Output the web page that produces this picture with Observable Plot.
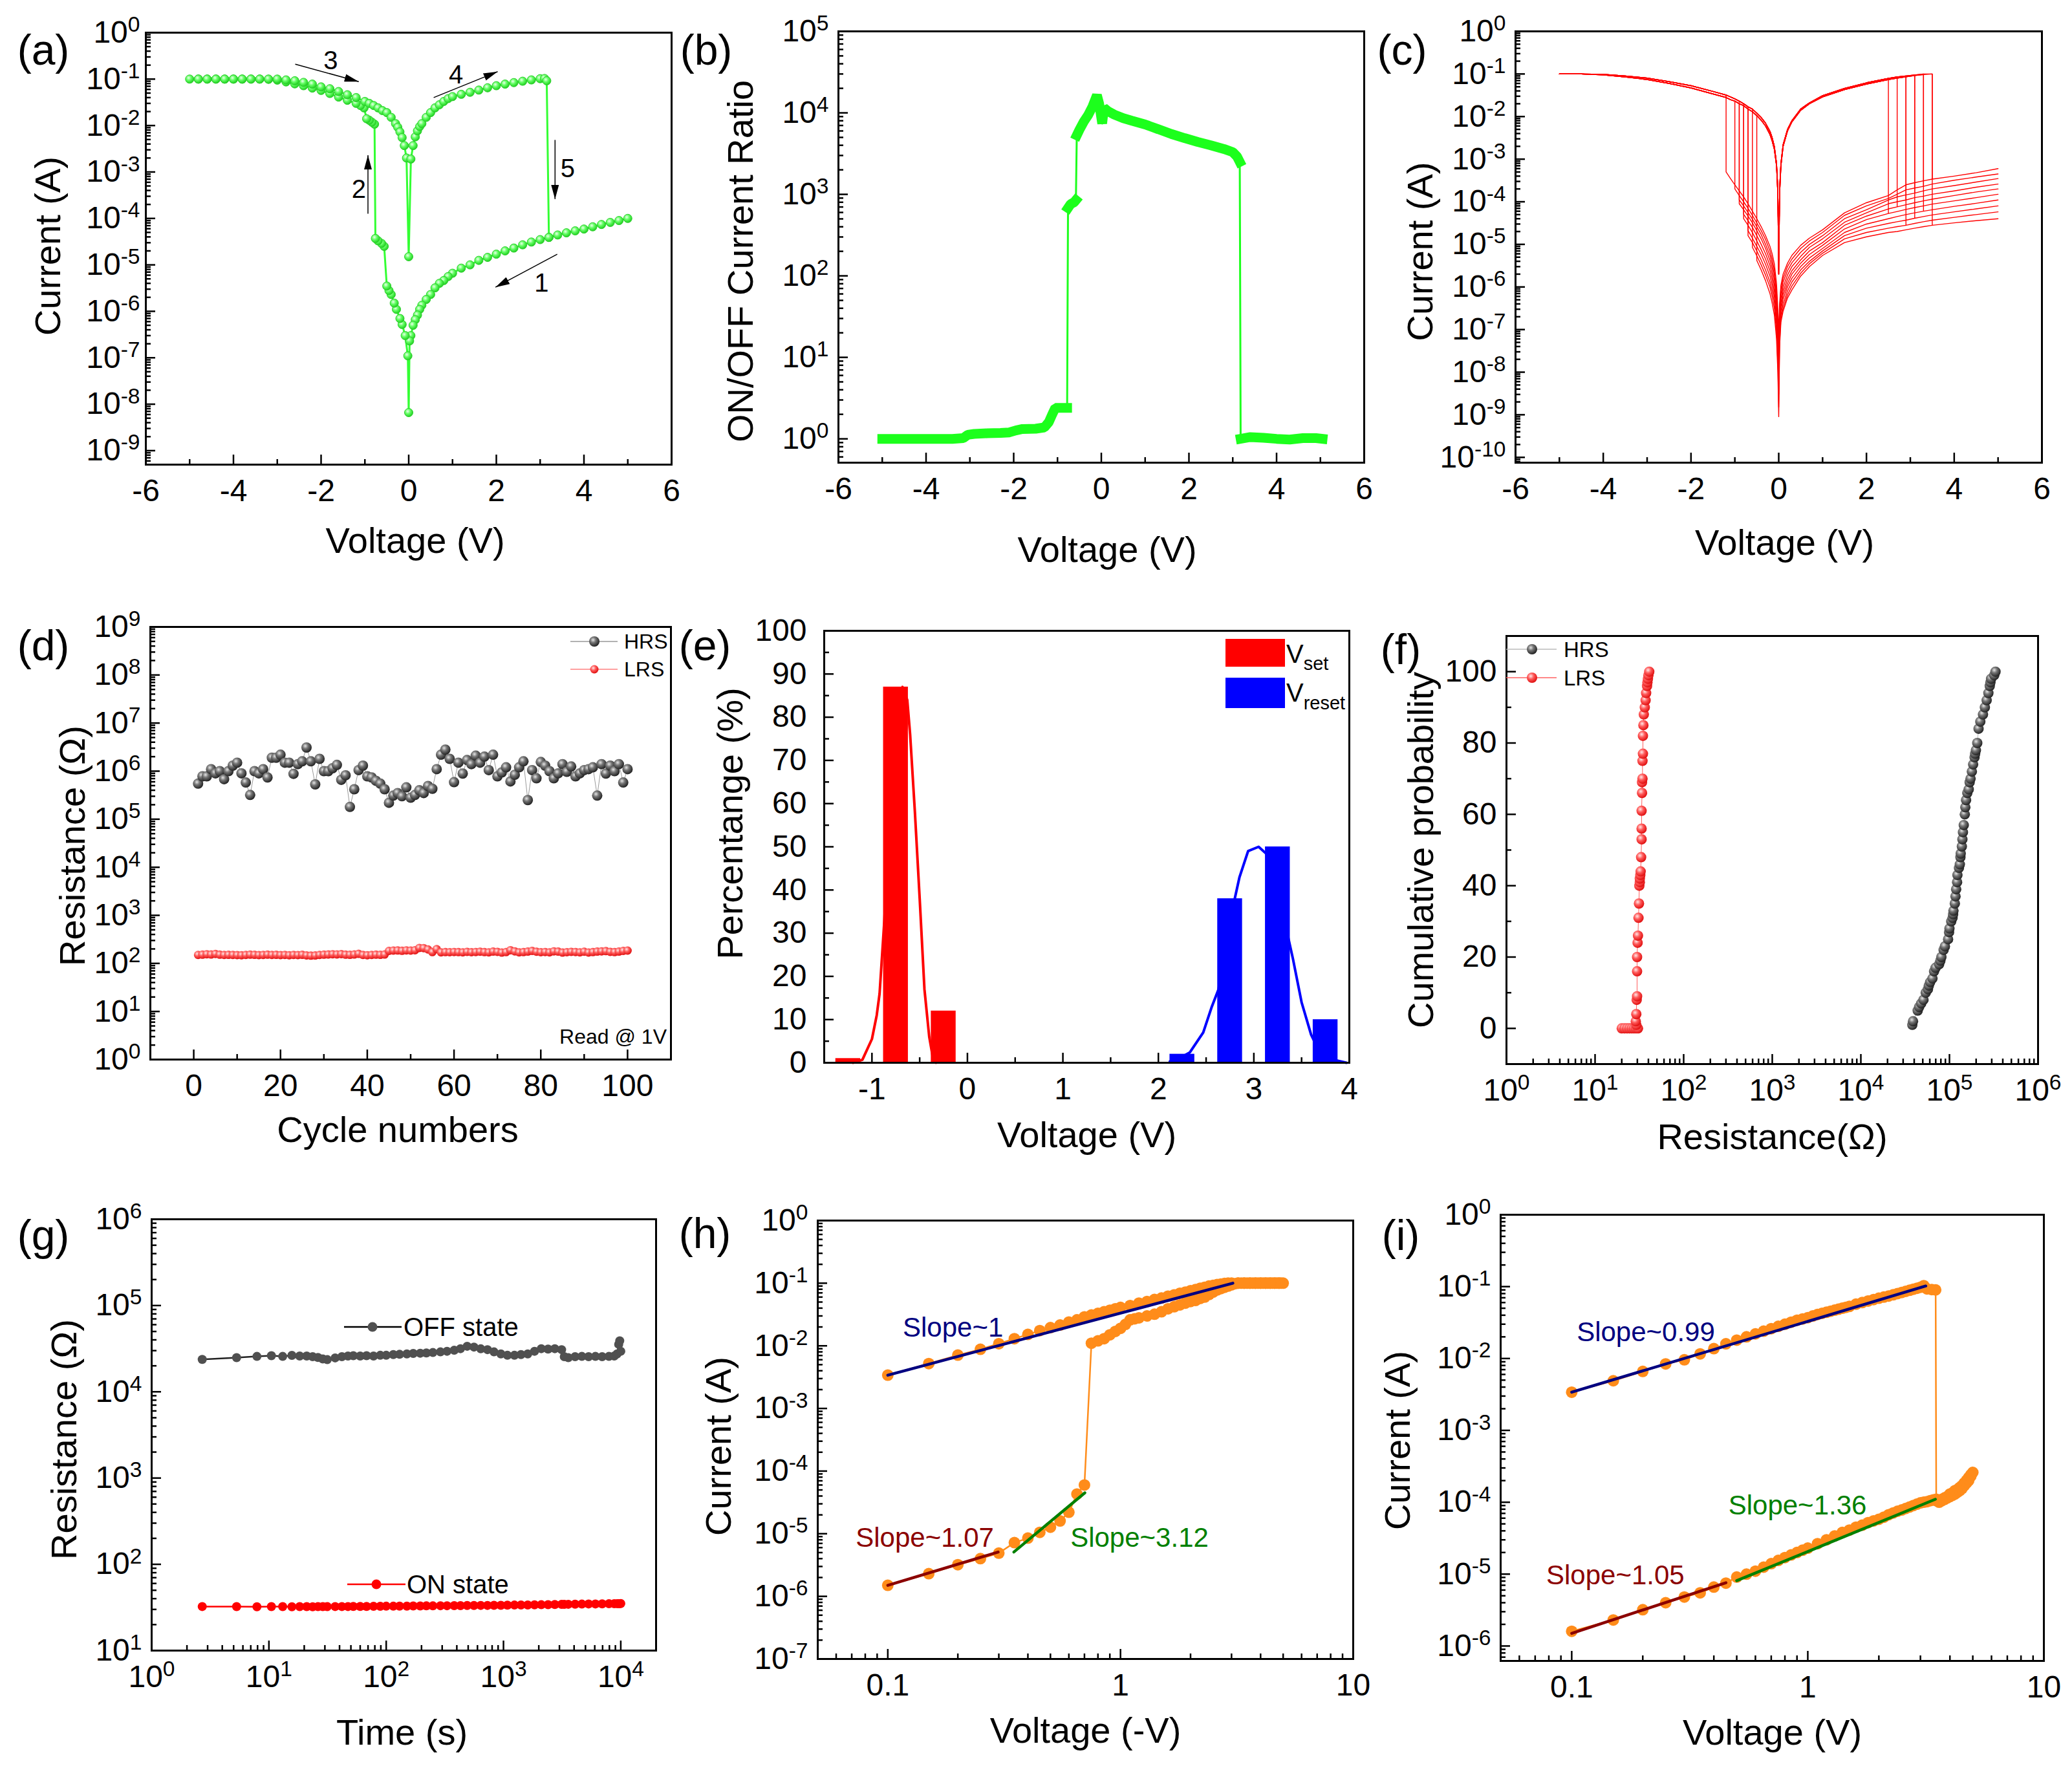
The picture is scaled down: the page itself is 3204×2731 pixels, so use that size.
<!DOCTYPE html>
<html>
<head>
<meta charset="utf-8">
<script src="https://cdn.jsdelivr.net/npm/d3@7"></script>
<script src="https://cdn.jsdelivr.net/npm/@observablehq/plot@0.6"></script>
<style>
html,body{margin:0;padding:0;background:#fff;}
#fig{position:relative;width:3204px;height:2731px;background:#fff;overflow:hidden;}
.pnl{position:absolute;}
.pnl svg{display:block;max-width:none;}
</style>
</head>
<body>
<div id="fig"></div>
<script>
// ================= DATA =================
// (a) I-V loop, branches in sweep order
const a1V = [5.0,4.8,4.6,4.4,4.2,4.0,3.8,3.6,3.4,3.2,3.0,2.8,2.6,2.4,2.2,2.0,1.8,1.6,1.4,1.2,1.0,0.9,0.8,0.7,0.6,0.5,0.4,0.3,0.25,0.2,0.15,0.1,0.05,0.02,0];
const a1I = [1.0e-4,9.0e-5,8.2e-5,7.4e-5,6.6e-5,5.9e-5,5.4e-5,4.9e-5,4.4e-5,3.9e-5,3.5e-5,3.1e-5,2.7e-5,2.3e-5,2.0e-5,1.7e-5,1.45e-5,1.25e-5,1.0e-5,8.5e-6,6.6e-6,5.6e-6,4.6e-6,4.0e-6,3.2e-6,2.3e-6,1.8e-6,1.35e-6,1.1e-6,8.3e-7,6.6e-7,5.0e-7,3.0e-7,2.3e-7,6.6e-9];
const a2V = [-0.02,-0.08,-0.15,-0.2,-0.28,-0.33,-0.4,-0.45,-0.5,-0.56,-0.62,-0.7,-0.76];
const a2I = [1.1e-7,3e-7,5.2e-7,7e-7,1.1e-6,1.5e-6,2.3e-6,2.8e-6,3.5e-6,2.5e-5,2.9e-5,3.3e-5,3.7e-5];
const a3V = [-0.78,-0.84,-0.9,-0.96,-1.02,-1.1,-1.2,-1.4,-1.6,-1.8,-2.0,-2.2,-2.4,-2.6,-2.8,-3.0,-3.2,-3.4,-3.6,-3.8,-4.0,-4.2,-4.4,-4.6,-4.8,-5.0];
const a3I = [0.0107,0.0118,0.013,0.014,0.024,0.027,0.03,0.035,0.041,0.049,0.057,0.064,0.072,0.079,0.087,0.095,0.099,0.1,0.1,0.1,0.1,0.1,0.1,0.1,0.1,0.1];
const a4V = [-4.8,-4.6,-4.4,-4.2,-4.0,-3.8,-3.6,-3.4,-3.2,-3.0,-2.8,-2.6,-2.4,-2.2,-2.0,-1.8,-1.6,-1.4,-1.2,-1.0,-0.9,-0.8,-0.7,-0.6,-0.5,-0.4,-0.3,-0.25,-0.2,-0.15,-0.1,-0.05,0];
const a4I = [0.1,0.1,0.1,0.1,0.1,0.1,0.1,0.1,0.1,0.1,0.096,0.092,0.085,0.078,0.068,0.062,0.054,0.046,0.040,0.033,0.030,0.027,0.024,0.021,0.019,0.015,0.011,0.0092,0.0073,0.0055,0.0037,0.002,1.5e-5];
const a5V = [0.05,0.1,0.15,0.2,0.25,0.3,0.4,0.5,0.6,0.7,0.8,0.9,1.0,1.2,1.4,1.6,1.8,2.0,2.2,2.4,2.6,2.8,3.0,3.1,3.15,3.2];
const a5I = [0.0019,0.0037,0.0057,0.0077,0.0095,0.011,0.015,0.019,0.024,0.028,0.033,0.038,0.042,0.047,0.052,0.058,0.065,0.072,0.078,0.084,0.09,0.096,0.102,0.103,0.092,3.9e-5];
const aNotes = [{t:"3",V:-1.78,I:0.25},{t:"4",V:1.08,I:0.12},{t:"2",V:-1.14,I:4.2e-4},{t:"5",V:3.63,I:1.15e-3},{t:"1",V:3.03,I:4e-6}];
const aArrows = [{V1:-2.59,I1:0.21,V2:-1.14,I2:0.088},{V1:0.57,I1:0.04,V2:2.03,I2:0.145},{V1:-0.93,I1:1.26e-4,V2:-0.93,I2:2.3e-3},{V1:3.34,I1:4.9e-3,V2:3.34,I2:2.6e-4},{V1:3.39,I1:1.7e-5,V2:1.98,I2:3.3e-6}];

// (b) ON/OFF ratio
const bV = [-5.0,-4.6,-4.2,-3.8,-3.4,-3.15,-3.05,-2.9,-2.6,-2.3,-2.1,-1.95,-1.8,-1.5,-1.3,-1.2,-1.12,-1.05,-0.9,-0.78,-0.76,-0.7,-0.62,-0.58,-0.56,-0.5,-0.4,-0.3,-0.2,-0.1,-0.05,0.02,0.06,0.15,0.3,0.5,0.7,1.0,1.3,1.6,1.9,2.2,2.5,2.8,3.0,3.1,3.16,3.18,3.4,3.7,4.0,4.3,4.6,4.9,5.05];
const bRatio = [1,1,1,1,1,1.02,1.12,1.15,1.17,1.18,1.2,1.27,1.32,1.33,1.38,1.6,2.0,2.4,2.4,2.4,680,760,800,850,5300,6200,7800,9400,1.2e4,1.65e4,1.3e4,7400,1.15e4,1.05e4,9500,8600,8000,7200,6300,5500,4900,4400,4000,3600,3300,2900,2500,1,1.05,1.03,1,0.98,1.02,1.02,1];
const bSeg = [0,0,0,0,0,0,0,0,0,0,0,0,0,0,0,0,0,0,0,0,1,1,1,1,2,2,2,2,2,2,2,2,2,2,2,2,2,2,2,2,2,2,2,2,2,2,2,3,3,3,3,3,3,3,3];

// (c) repeated cycles
const cHposV = [5,4.5,4,3.5,3.3,3.1,2.9,2.7,2.5,2,1.5,1,0.7,0.5,0.3,0.2,0.1,0.05,0.02,0];
const cHRSpos = [
  [6e-4,4.8e-4,4e-4,3.4e-4,3.1e-4,2.8e-4,2.5e-4,1.9e-4,1.4e-4,9.5e-5,5.5e-5,2.2e-5,1.4e-5,9.5e-6,5.5e-6,3.6e-6,2e-6,1.1e-6,4e-7,8e-8],
  [4.5e-4,3.8e-4,3.2e-4,2.6e-4,2.3e-4,2.1e-4,1.9e-4,1.5e-4,1.2e-4,8e-5,4.8e-5,1.9e-5,1.2e-5,8e-6,4.5e-6,3e-6,1.6e-6,9e-7,3e-7,5e-8],
  [3.5e-4,2.9e-4,2.4e-4,2e-4,1.8e-4,1.6e-4,1.45e-4,1.3e-4,1.1e-4,6.5e-5,4e-5,1.6e-5,1e-5,6.5e-6,3.7e-6,2.4e-6,1.3e-6,7e-7,2.4e-7,3e-8],
  [2.6e-4,2.2e-4,1.8e-4,1.5e-4,1.35e-4,1.25e-4,1.1e-4,1e-4,9e-5,5.5e-5,3.3e-5,1.35e-5,8.5e-6,5.2e-6,3e-6,1.9e-6,1e-6,5.5e-7,1.8e-7,2e-8],
  [2e-4,1.7e-4,1.4e-4,1.15e-4,1.05e-4,9.5e-5,8.5e-5,7.6e-5,6.8e-5,4.6e-5,2.8e-5,1.1e-5,7e-6,4.3e-6,2.4e-6,1.5e-6,8e-7,4.3e-7,1.4e-7,1.2e-8],
  [1.5e-4,1.25e-4,1.05e-4,8.8e-5,8e-5,7.3e-5,6.6e-5,5.9e-5,5.3e-5,3.8e-5,2.3e-5,9.5e-6,5.8e-6,3.6e-6,2e-6,1.2e-6,6.5e-7,3.5e-7,1.1e-7,8e-9],
  [1.1e-4,9.2e-5,7.8e-5,6.5e-5,6e-5,5.5e-5,5e-5,4.5e-5,4e-5,3e-5,1.9e-5,8e-6,4.8e-6,3e-6,1.6e-6,1e-6,5.2e-7,2.8e-7,9e-8,5e-9],
  [8e-5,6.8e-5,5.8e-5,4.9e-5,4.5e-5,4.1e-5,3.7e-5,3.4e-5,3.1e-5,2.4e-5,1.6e-5,7e-6,4e-6,2.5e-6,1.3e-6,8e-7,4e-7,2.2e-7,7e-8,3e-9],
  [5.8e-5,5e-5,4.3e-5,3.7e-5,3.4e-5,3.1e-5,2.8e-5,2.6e-5,2.4e-5,1.9e-5,1.35e-5,6.2e-6,3.5e-6,2.1e-6,1.05e-6,6.5e-7,3.2e-7,1.8e-7,5e-8,1.5e-9],
  [4e-5,3.6e-5,3.2e-5,2.8e-5,2.6e-5,2.4e-5,2.2e-5,2e-5,1.9e-5,1.5e-5,1.1e-5,5.5e-6,3e-6,1.8e-6,8.5e-7,5.5e-7,2.7e-7,1.5e-7,4e-8,9e-10]
];
const cHnegV = [0,-0.02,-0.05,-0.1,-0.15,-0.2,-0.3,-0.4,-0.5,-0.6,-0.7,-0.8,-0.9,-1.0,-1.1,-1.2];
const cHRSneg = [
  [8e-8,3e-7,1.2e-6,3.5e-6,6e-6,9e-6,1.6e-5,2.6e-5,4e-5,6e-5,9e-5,1.3e-4,1.8e-4,2.5e-4,3.5e-4,5e-4],
  [5e-8,2e-7,8e-7,2.5e-6,4.5e-6,7e-6,1.3e-5,2.1e-5,3.2e-5,4.8e-5,7e-5,1e-4,1.4e-4,2e-4,2.8e-4,4e-4],
  [3e-8,1.5e-7,6e-7,2e-6,3.5e-6,5.5e-6,1e-5,1.7e-5,2.6e-5,3.9e-5,5.6e-5,8e-5,1.1e-4,1.6e-4,2.2e-4,3e-4],
  [2e-8,1e-7,4.5e-7,1.5e-6,2.7e-6,4.2e-6,8e-6,1.35e-5,2.1e-5,3.2e-5,4.6e-5,6.5e-5,9e-5,1.25e-4,1.7e-4,2.3e-4],
  [1.2e-8,7e-8,3.5e-7,1.1e-6,2e-6,3.2e-6,6e-6,1e-5,1.6e-5,2.5e-5,3.6e-5,5.1e-5,7e-5,9.6e-5,1.3e-4,1.8e-4],
  [8e-9,5e-8,2.5e-7,8e-7,1.5e-6,2.4e-6,4.5e-6,7.5e-6,1.2e-5,1.9e-5,2.8e-5,4e-5,5.5e-5,7.5e-5,1e-4,1.4e-4],
  [5e-9,3.5e-8,1.8e-7,6e-7,1.1e-6,1.8e-6,3.4e-6,5.8e-6,9e-6,1.4e-5,2.1e-5,3e-5,4.2e-5,5.8e-5,8e-5,1.1e-4],
  [3e-9,2.5e-8,1.3e-7,4.5e-7,8e-7,1.3e-6,2.5e-6,4.3e-6,7e-6,1.1e-5,1.6e-5,2.3e-5,3.3e-5,4.6e-5,6.3e-5,8.5e-5],
  [1.5e-9,1.5e-8,9e-8,3.2e-7,6e-7,1e-6,1.9e-6,3.3e-6,5.4e-6,8.5e-6,1.3e-5,1.9e-5,2.7e-5,3.8e-5,5.2e-5,7e-5],
  [9e-10,1e-8,6e-8,2.2e-7,4.2e-7,7e-7,1.4e-6,2.5e-6,4.2e-6,6.6e-6,1e-5,1.5e-5,2.2e-5,3.2e-5,4.6e-5,6.5e-5]
];
const cSetV = [-1.2,-1.0,-0.9,-0.9,-0.8,-0.8,-0.7,-0.7,-0.6,-0.5];
const cResetV = [3.5,3.3,3.1,2.9,2.7,2.5,3.3,3.1,2.9,3.5];
const cLnegV = [-5,-4.5,-4,-3.5,-3,-2.5,-2,-1.5,-1.2,-1.1,-1.0,-0.9,-0.8,-0.7,-0.6,-0.5,-0.4,-0.3,-0.2,-0.15,-0.1,-0.05,-0.02,0];
const cLRSneg = [
  [0.1,0.1,0.098,0.09,0.08,0.066,0.053,0.039,0.032,0.029,0.026,0.023,0.02,0.017,0.015,0.012,0.0095,0.007,0.0045,0.0032,0.002,0.0008,0.0002,4e-6],
  [0.1,0.1,0.095,0.085,0.074,0.06,0.047,0.034,0.028,0.025,0.023,0.02,0.018,0.015,0.013,0.0105,0.0082,0.006,0.0038,0.0027,0.0017,0.0007,0.00015,2e-6]
];
const cLposV = [0,0.02,0.05,0.1,0.2,0.3,0.5,0.7,1,1.5,2,2.5,2.7,2.9,3.1,3.3,3.5];
const cLRSpos = [
  [4e-6,2e-4,8e-4,2.2e-3,5e-3,8e-3,1.5e-2,2.1e-2,3.1e-2,4.6e-2,6.2e-2,7.9e-2,8.5e-2,9e-2,9.5e-2,0.1,0.1],
  [2e-6,1.5e-4,7e-4,2e-3,4.6e-3,7.5e-3,1.4e-2,2e-2,2.9e-2,4.3e-2,5.8e-2,7.4e-2,8e-2,8.6e-2,9.2e-2,9.7e-2,0.1]
];

// (d) endurance
const dHRS = [5.5e5,7.8e5,7.8e5,1.1e6,9e5,1.0e6,6.8e5,1.0e6,1.3e6,1.5e6, 9e5,5.8e5,3.2e5,1e6,9e5,1.1e6,7.4e5,1.9e6,1.9e6,2.2e6, 1.5e6,1.5e6,8.8e5,1.4e6,1.6e6,3.1e6,1.6e6,5.3e5,1.8e6,1e6, 1e6,1.15e6,1.35e6,6.6e5,8.2e5,1.8e5,4.2e5,1.05e6,1.3e6,7.8e5, 7.4e5,6.3e5,5.5e5,4.2e5,2.2e5,3.1e5,3.5e5,3e5,4.6e5,2.8e5, 3.2e5,4e5,3.5e5,4.9e5,4.3e5,1.1e6,2.2e6,2.8e6,1.8e6,5.9e5, 1.5e6,8.9e5,1.7e6,1.4e6,2.1e6,1.5e6,2e6,1.05e6,2.2e6,7.8e5, 9.4e5,1.2e6,6.1e5,8.4e5,1.2e6,1.6e6,2.5e5,1.05e6,7.1e5,1.55e6, 1.3e6,1e6,7.1e5,9e5,1.4e6,9.7e5,1.25e6,7.8e5,9e5,1.05e6, 1.1e6,1.2e6,3.1e5,1.4e6,8.9e5,1.3e6,1e6,1.4e6,5.8e5,1.1e6];
const dLRS = [150,152,155,153,157,152,150,151,150,149, 148,150,152,151,149,150,152,150,151,149, 150,148,150,149,151,147,145,146,150,152, 153,155,154,156,152,151,153,158,150,148, 150,152,151,153,182,185,186,183,187,185, 188,210,208,195,172,198,170,172,171,173, 172,170,174,171,173,175,172,170,176,174, 168,172,188,178,170,172,176,182,175,171, 173,170,178,176,168,171,174,173,170,175, 169,172,176,178,180,174,172,176,182,185];

// (e) histograms
const eSetCenters = [-1.25,-0.75,-0.25];
const eSetPct = [1,87,12];
const eResetCenters = [2.25,2.75,3.25,3.75];
const eResetPct = [2,38,50,10];
const eSetFitV = [-1.2,-1.1,-1.0,-0.95,-0.92,-0.87,-0.82,-0.78,-0.73,-0.68,-0.63,-0.6,-0.55,-0.5,-0.45,-0.4,-0.36,-0.33];
const eSetFitP = [0,0.7,5.5,11,16,33,55,72,84,87,84,76,58,38,17,6,1,0];
const eResetFitV = [2.12,2.2,2.33,2.47,2.56,2.63,2.75,2.85,2.94,3.05,3.15,3.27,3.41,3.5,3.6,3.69,3.83,3.97];
const eResetFitP = [0.3,0.8,2.4,7,13,17,33,43,49,50,48,38,24,14,6.5,2.4,0.7,0];

// (f) cumulative probability
const fHRSp = [1,2,5,6,7,8,10,11,12,13,14,16,17,18,19,20,22,23,25,27,28,30,31,32,33,35,37,39,41,43,45,46,48,49,51,53,55,57,60,62,64,66,67,69,70,72,74,76,77,78,80,84,86,88,90,92,94,96,97,98,99,100];
const fHRSr = [38100,38800,43800,45500,48000,50900,54000,57200,58500,60600,64300,67000,69700,76500,79000,81100,85900,88900,96500,99000,100000,104700,108400,110000,111000,115000,117000,119000,122000,123000,128000,131000,133000,134000,138000,140000,142000,145000,149000,151000,154000,159000,165000,169000,173000,179000,185000,192000,195000,199000,206000,213000,223000,239000,251000,263000,275000,285000,290000,295000,320000,331000];
const fLRSp = [0,0,0,0,0,0,0,0,1,2,4,8,9,16,20,24,26,31,35,40,41,42,43,44,48,53,56,61,66,69,70,75,77,82,85,88,90,92,94,96,97,98,99,100];
const fLRSr = [20,21.5,23,24.5,26,27.5,29,30.5,29.2,28.8,29.2,29.5,29.8,29.8,29.8,30.2,30.5,30.9,31.3,31.6,32.0,32.0,32.4,32.7,33.1,33.5,33.5,33.5,33.9,33.9,34.3,34.3,34.7,34.7,35.1,35.5,36.4,37.2,37.7,38.6,39.0,39.5,40.0,40.9];

// (g) retention
const gT = [2.7,5.3,7.9,10.5,13.1,15.7,18.3,21,23.6,26.2,28.8,31.4,36.7,41.9,47.2,52.4,60,68,78,89,100,115,130,150,170,195,220,250,290,330,380,430,490,560,640,730,830,950,1080,1240,1410,1610,1840,2100,2400,2740,3130,3300,3570,4080,4660,5320,6080,6940,7930,8800,9300,9600,9800,10000];
const gOFF = [23700,24900,25700,26200,25700,26400,26000,26000,25500,25000,24000,23600,24700,25500,26000,26200,26000,26200,26000,26500,26500,27000,27200,27500,27800,28000,28200,28500,29000,29500,30300,31600,33700,33000,31500,30800,29000,27500,26500,26500,27000,27500,29500,31600,31300,31600,30800,25500,24900,25500,25700,25500,25700,25500,25700,26000,27500,35500,39000,29500];
const gON = [32.4,32.3,32.2,32.3,32.3,32.2,32.3,32.3,32.2,32.3,32.3,32.3,32.4,32.4,32.4,32.5,32.5,32.5,32.6,32.6,32.7,32.7,32.8,32.8,32.9,32.9,33.0,33.0,33.1,33.1,33.2,33.2,33.3,33.3,33.4,33.4,33.5,33.5,33.6,33.7,33.8,33.8,33.9,34.0,34.1,34.2,34.3,34.3,34.4,34.5,34.6,34.7,34.7,34.8,34.9,34.9,35.0,35.0,35.0,35.1];

// (h) negative sweep, log-log
const hHrsV = [0.1,0.15,0.2,0.25,0.3,0.35,0.4,0.45,0.5,0.55,0.6,0.65,0.7];
const hHrsI = [1.5e-6,2.3e-6,3.2e-6,4e-6,4.9e-6,7.2e-6,8.5e-6,1.05e-5,1.27e-5,1.6e-5,2.2e-5,4.3e-5,6e-5];
const hSetV = [0.75,0.8,0.85,0.9,0.95,1.0,1.05,1.1,1.15,1.2,1.3,1.4,1.5,1.6,1.7,1.8,1.9,2.0,2.1,2.2,2.3,2.4,2.5,2.6,2.7,2.8,2.9,3.0,3.1,3.2,3.3,3.4,3.5,3.6,3.7,3.8,3.9,4.0,4.1,4.2,4.3,4.4,4.5,4.6,4.7,4.8,4.9,5.0];
const hSetI = [1.1e-2,1.2e-2,1.3e-2,1.5e-2,1.7e-2,1.9e-2,2.2e-2,2.6e-2,2.7e-2,2.8e-2,3.0e-2,3.2e-2,3.5e-2,3.9e-2,4.2e-2,4.5e-2,4.8e-2,5.1e-2,5.3e-2,5.7e-2,6e-2,6.6e-2,7.2e-2,7.8e-2,8.2e-2,8.6e-2,9e-2,9.4e-2,9.8e-2,0.1,0.1,0.1,0.1,0.1,0.1,0.1,0.1,0.1,0.1,0.1,0.1,0.1,0.1,0.1,0.1,0.1,0.1,0.1];
const hRetV = [4.8,4.6,4.4,4.2,4.0,3.8,3.6,3.4,3.2,3.0,2.9,2.8,2.7,2.6,2.5,2.4,2.3,2.2,2.1,2.0,1.9,1.8,1.7,1.6,1.5,1.4,1.3,1.2,1.1,1.0,0.95,0.9,0.85,0.8,0.75,0.7,0.65,0.6,0.55,0.5,0.45,0.4,0.35,0.3,0.25,0.2,0.15,0.1];
const hRetI = [0.1,0.1,0.1,0.1,0.1,0.1,0.1,0.1,0.1,0.1,0.1,0.099,0.097,0.095,0.092,0.09,0.086,0.083,0.079,0.076,0.072,0.069,0.065,0.062,0.058,0.055,0.051,0.048,0.044,0.041,0.039,0.037,0.035,0.033,0.031,0.029,0.026,0.024,0.0215,0.0195,0.0175,0.0152,0.013,0.0108,0.0088,0.0071,0.0052,0.0034];
const hFits = [
  {name:"Slope~1", color:"#000080", V:[0.1,3.04], I:[3.4e-3,0.1], tV:0.116, tI:0.0195},
  {name:"Slope~1.07", color:"#8b0000", V:[0.1,0.298], I:[1.5e-6,5.1e-6], tV:0.0728, tI:8.5e-6},
  {name:"Slope~3.12", color:"#008000", V:[0.348,0.703], I:[5.1e-6,4.5e-5], tV:0.609, tI:8.5e-6}
];

// (i) positive sweep, log-log
const iUpV = [0.1,0.15,0.2,0.25,0.3,0.35,0.4,0.45,0.5,0.55,0.6,0.65,0.7,0.75,0.8,0.85,0.9,0.95,1.0,1.05,1.1,1.15,1.2,1.25,1.3,1.35,1.4,1.45,1.5,1.6,1.7,1.8,1.9,2.0,2.1,2.2,2.3,2.4,2.5,2.6,2.7,2.8,2.9,3.0,3.1,3.2,3.35,3.48];
const iUpI = [3.4e-3,4.9e-3,6.6e-3,8.4e-3,9.6e-3,1.16e-2,1.37e-2,1.6e-2,1.8e-2,2e-2,2.2e-2,2.4e-2,2.6e-2,2.8e-2,3.0e-2,3.2e-2,3.4e-2,3.55e-2,3.7e-2,3.9e-2,4.1e-2,4.25e-2,4.4e-2,4.55e-2,4.7e-2,4.85e-2,5e-2,5.15e-2,5.3e-2,5.7e-2,6e-2,6.3e-2,6.6e-2,6.9e-2,7.15e-2,7.4e-2,7.7e-2,8e-2,8.3e-2,8.6e-2,8.9e-2,9.2e-2,9.5e-2,9.8e-2,0.103,0.093,0.091,0.09];
const iHiV = [3.5,3.6,3.7,3.8,3.9,4.0,4.1,4.2,4.3,4.4,4.5,4.6,4.7,4.8,4.9,5.0];
const iHiI = [1.1e-4,1.05e-4,1.1e-4,1.15e-4,1.2e-4,1.3e-4,1.35e-4,1.45e-4,1.5e-4,1.6e-4,1.7e-4,1.85e-4,2e-4,2.2e-4,2.4e-4,2.6e-4];
const iLoV = [4.9,4.8,4.7,4.6,4.5,4.4,4.3,4.2,4.1,4.0,3.9,3.8,3.7,3.6,3.5,3.4,3.3,3.2,3.1,3.0,2.9,2.8,2.7,2.6,2.5,2.4,2.3,2.2,2.1,2.0,1.9,1.8,1.7,1.6,1.5,1.4,1.3,1.2,1.1,1.0,0.95,0.9,0.85,0.8,0.75,0.7,0.65,0.6,0.55,0.5,0.45,0.4,0.35,0.3,0.25,0.2,0.15,0.1];
const iLoI = [2.3e-4,2e-4,1.85e-4,1.7e-4,1.55e-4,1.45e-4,1.38e-4,1.3e-4,1.25e-4,1.2e-4,1.15e-4,1.1e-4,1.05e-4,1e-4,1.05e-4,1.08e-4,1.05e-4,1.02e-4,1e-4,9.8e-5,9.4e-5,9e-5,8.6e-5,8.2e-5,7.8e-5,7.5e-5,7.1e-5,6.7e-5,6.2e-5,5.8e-5,5.5e-5,5.2e-5,4.8e-5,4.5e-5,4.1e-5,3.8e-5,3.4e-5,3e-5,2.65e-5,2.3e-5,2.15e-5,2e-5,1.85e-5,1.7e-5,1.55e-5,1.4e-5,1.25e-5,1.1e-5,1e-5,9.1e-6,7.5e-6,6.6e-6,5.5e-6,4.8e-6,4e-6,3.2e-6,2.3e-6,1.6e-6];
const iFits = [
  {name:"Slope~0.99", color:"#000080", V:[0.1,3.16], I:[3.4e-3,0.102], tV:0.105, tI:0.0228},
  {name:"Slope~1.05", color:"#8b0000", V:[0.1,0.45], I:[1.5e-6,7.6e-6], tV:0.078, tI:9.6e-6},
  {name:"Slope~1.36", color:"#008000", V:[0.5,3.47], I:[8.1e-6,1.1e-4], tV:0.461, tI:8.95e-5}
];

// tick values
const ticksPm6 = [-6,-4,-2,0,2,4,6];
const minorPm6 = [-5,-3,-1,1,3,5];
const aYt = [1e-9,1e-8,1e-7,1e-6,1e-5,1e-4,1e-3,1e-2,1e-1,1e0];
const bYt = [1e0,1e1,1e2,1e3,1e4,1e5];
const cYt = [1e-10,1e-9,1e-8,1e-7,1e-6,1e-5,1e-4,1e-3,1e-2,1e-1,1e0];
const dXt = [0,20,40,60,80,100];
const dXm = [10,30,50,70,90];
const dYt = [1e0,1e1,1e2,1e3,1e4,1e5,1e6,1e7,1e8,1e9];
const eXt = [-1,0,1,2,3,4];
const eXm = [-0.5,0.5,1.5,2.5,3.5];
const eYt = [0,10,20,30,40,50,60,70,80,90,100];
const eYm = [5,15,25,35,45,55,65,75,85,95];
const fXt = [1e0,1e1,1e2,1e3,1e4,1e5,1e6];
const fYt = [0,20,40,60,80,100];
const fYm = [10,30,50,70,90];
const gXt = [1e0,1e1,1e2,1e3,1e4];
const gYt = [1e1,1e2,1e3,1e4,1e5,1e6];
const hiXt = [0.1,1,10];
const hYt = [1e-7,1e-6,1e-5,1e-4,1e-3,1e-2,1e-1,1e0];
const iYt = [1e-6,1e-5,1e-4,1e-3,1e-2,1e-1,1e0];

// ================= HELPERS =================
const FONT = '"Liberation Sans", Arial, Helvetica, sans-serif';
const pow10Label = v => "10^" + Math.round(Math.log10(v));
const numLabel = v => String(v);
const blank = () => "";
function logMinors(lo, hi) {
  const out = [];
  for (let e = Math.floor(Math.log10(lo)) - 1; e <= Math.ceil(Math.log10(hi)); e++)
    for (let k = 2; k <= 9; k++) {
      const v = +(k * Math.pow(10, e)).toPrecision(6);
      if (v > lo * 1.0001 && v < hi * 0.9999) out.push(v);
    }
  return out;
}
const rows = (xs, ys) => xs.map((x, i) => ({x, y: ys[i]}));
const fig = document.getElementById("fig");

function filledArrow(color) {
  const m = d3.create("svg:marker")
    .attr("viewBox", "-22 -6 22 12")
    .attr("markerWidth", 22).attr("markerHeight", 12)
    .attr("markerUnits", "userSpaceOnUse")
    .attr("preserveAspectRatio", "none")
    .attr("orient", "auto")
    .attr("refX", 0).attr("refY", 0)
    .attr("fill", color).attr("stroke", "none");
  m.append("path").attr("d", "M-22,-6L0,0L-22,6Z");
  return m.node();
}

function panel(c) {
  const ax = {strokeWidth: 2.5, label: null};
  const marks = [
    ...c.marks,
    Plot.axisX({...ax, ticks: c.xt, tickFormat: c.xf, tickSize: -15, tickPadding: 37}),
    Plot.axisY({...ax, ticks: c.yt, tickFormat: c.yf, tickSize: -15, tickPadding: c.ytp || 30}),
    Plot.frame({stroke: "#000", strokeWidth: 3}),
    Plot.text([c.xTitle], {text: d => d, frameAnchor: "bottom", dx: c.xtdx || 0, dy: c.xtdy, textAnchor: "middle", lineAnchor: "middle", fontSize: 56}),
    Plot.text([c.yTitle], {text: d => d, frameAnchor: "left", dx: c.ytdx, dy: c.ytdy || 0, rotate: -90, textAnchor: "middle", lineAnchor: "middle", fontSize: 56})
  ];
  if (c.xm && c.xm.length) marks.push(Plot.axisX({...ax, ticks: c.xm, tickFormat: blank, tickSize: -8, tickPadding: 0}));
  if (c.ym && c.ym.length) marks.push(Plot.axisY({...ax, ticks: c.ym, tickFormat: blank, tickSize: -8, tickPadding: 0}));
  const svg = Plot.plot({
    width: c.w, height: c.h,
    marginLeft: c.m[0], marginTop: c.m[1], marginRight: c.m[2], marginBottom: c.m[3],
    x: c.x, y: c.y,
    style: {fontFamily: FONT, fontSize: "48px", color: "#000", background: "none", overflow: "visible"},
    marks
  });
  svg.querySelectorAll("text").forEach(t => {
    const mm = /^10\^(-?\d+)$/.exec(t.textContent);
    if (!mm) return;
    t.textContent = "10";
    const ts = document.createElementNS("http://www.w3.org/2000/svg", "tspan");
    ts.setAttribute("dy", "-0.5em");
    ts.setAttribute("font-size", "0.7em");
    ts.textContent = mm[1];
    t.appendChild(ts);
  });
  const div = document.createElement("div");
  div.className = "pnl";
  Object.assign(div.style, {left: c.left + "px", top: c.top + "px", width: c.w + "px", height: c.h + "px"});
  div.appendChild(svg);
  fig.appendChild(div);
}

// gradient defs
const defs = d3.select(fig).append("svg").attr("width", 0).attr("height", 0).style("position", "absolute").append("defs");
function sphere(id, stops) {
  const g = defs.append("radialGradient").attr("id", id).attr("cx", "38%").attr("cy", "35%").attr("r", "65%");
  stops.forEach(([o, c]) => g.append("stop").attr("offset", o).attr("stop-color", c));
}
sphere("gGray", [["0%", "#e6e6e6"], ["40%", "#777"], ["100%", "#222"]]);
sphere("gRed", [["0%", "#ffe8e8"], ["45%", "#ff5a5a"], ["100%", "#e01010"]]);
sphere("gGreen", [["0%", "#eaffea"], ["45%", "#66ff66"], ["100%", "#22d022"]]);

// ================= PANELS =================
// (a)
const aData = [].concat(rows(a1V, a1I), rows(a2V, a2I), rows(a3V, a3I), rows(a4V, a4I), rows(a5V, a5I));
panel({
  left: 0, top: 0, w: 1070, h: 900, m: [225, 50, 32, 182],
  x: {domain: [-6, 6]}, y: {type: "log", domain: [5e-10, 1]},
  xt: ticksPm6, xm: minorPm6, xf: numLabel, yt: aYt, ym: logMinors(5e-10, 1), yf: pow10Label, ytp: 24,
  xTitle: "Voltage (V)", xtdx: 10, xtdy: 119, yTitle: "Current (A)", ytdx: -150, ytdy: -4,
  marks: [
    Plot.line(aData, {x: "x", y: "y", stroke: "#33ff33", strokeWidth: 3}),
    Plot.dot(aData, {x: "x", y: "y", r: 6.5, fill: "url(#gGreen)", stroke: "#2bcf2b", strokeWidth: 1}),
    Plot.link(aArrows, {x1: "V1", y1: "I1", x2: "V2", y2: "I2", stroke: "#000", strokeWidth: 1.5, markerEnd: filledArrow}),
    Plot.text(aNotes, {x: "V", y: "I", text: "t", fontSize: 40})
  ]
});

// (b)
const bData = bV.map((v, i) => ({x: v, y: bRatio[i], seg: bSeg[i]}));
panel({
  left: 1070, top: 0, w: 1070, h: 900, m: [226, 48, 31, 185],
  x: {domain: [-6, 6]}, y: {type: "log", domain: [0.51, 1e5]},
  xt: ticksPm6, xm: minorPm6, xf: numLabel, yt: bYt, ym: logMinors(0.51, 1e5), yf: pow10Label,
  xTitle: "Voltage (V)", xtdx: 9, xtdy: 136, yTitle: "ON/OFF Current Ratio", ytdx: -150, ytdy: 22,
  marks: [
    Plot.line(bData, {x: "x", y: "y", stroke: "#1cff1c", strokeWidth: 3}),
    Plot.line(bData, {x: "x", y: "y", z: "seg", stroke: "#1cff1c", strokeWidth: 15, strokeLinecap: "square", strokeLinejoin: "miter"})
  ]
});

// (c)
const cData = [];
cHRSpos.forEach((h, i) => {
  const n = cHRSneg[i], L = i % 2, vs = cSetV[i], vr = cResetV[i];
  const ln = cLRSneg[L], lp = cLRSpos[L];
  const pts = [];
  cHposV.forEach((v, k) => pts.push([v, h[k]]));
  cHnegV.forEach((v, k) => { if (v >= vs - 1e-9) pts.push([v, n[k]]); });
  for (let k = cLnegV.length - 1; k >= 0; k--) if (cLnegV[k] <= vs + 1e-9) pts.push([cLnegV[k], ln[k]]);
  cLnegV.forEach((v, k) => pts.push([v, ln[k]]));
  cLposV.forEach((v, k) => { if (v <= vr + 1e-9) pts.push([v, lp[k]]); });
  for (let k = cHposV.length - 1; k >= 0; k--) if (cHposV[k] >= vr - 1e-9) pts.push([cHposV[k], h[k]]);
  pts.forEach(p => cData.push({cycle: i, x: p[0], y: p[1]}));
});
panel({
  left: 2140, top: 0, w: 1064, h: 900, m: [203, 48, 47, 185],
  x: {domain: [-6, 6]}, y: {type: "log", domain: [7.5e-11, 1]},
  xt: ticksPm6, xm: minorPm6, xf: numLabel, yt: cYt, ym: logMinors(7.5e-11, 1), yf: pow10Label,
  xTitle: "Voltage (V)", xtdx: 9, xtdy: 125, yTitle: "Current (A)", ytdx: -146, ytdy: 7,
  marks: [
    Plot.line(cData, {x: "x", y: "y", z: "cycle", stroke: "#ff0000", strokeWidth: 1.4})
  ]
});

// (d)
const dCycles = dHRS.map((_, i) => i + 1);
const dH = rows(dCycles, dHRS), dL = rows(dCycles, dLRS);
panel({
  left: 0, top: 920, w: 1070, h: 900, m: [232, 49, 33, 182],
  x: {domain: [-10, 110]}, y: {type: "log", domain: [1, 1e9]},
  xt: dXt, xm: dXm, xf: numLabel, yt: dYt, ym: logMinors(1, 1e9), yf: pow10Label,
  xTitle: "Cycle numbers", xtdx: -20, xtdy: 110, yTitle: "Resistance (Ω)", ytdx: -119, ytdy: 4,
  marks: [
    Plot.line(dH, {x: "x", y: "y", stroke: "#9a9a9a", strokeWidth: 1}),
    Plot.dot(dH, {x: "x", y: "y", r: 8, fill: "url(#gGray)"}),
    Plot.line(dL, {x: "x", y: "y", stroke: "#ff8080", strokeWidth: 1}),
    Plot.dot(dL, {x: "x", y: "y", r: 6.5, fill: "url(#gRed)"})
  ]
});

// (e)
const E_HALF = 0.13;
const eSet = eSetCenters.map((c, i) => ({c, p: eSetPct[i]}));
const eReset = eResetCenters.map((c, i) => ({c, p: eResetPct[i]}));
panel({
  left: 1070, top: 920, w: 1070, h: 900, m: [204, 55, 54, 177],
  x: {domain: [-1.5, 4]}, y: {domain: [0, 100]},
  xt: eXt, xm: eXm, xf: numLabel, yt: eYt, ym: eYm, yf: numLabel, ytp: 42,
  xTitle: "Voltage (V)", xtdx: 0, xtdy: 113, yTitle: "Percentange (%)", ytdx: -144, ytdy: -36,
  marks: [
    Plot.line(rows(eSetFitV, eSetFitP), {x: "x", y: "y", stroke: "#ff0000", strokeWidth: 4}),
    Plot.line(rows(eResetFitV, eResetFitP), {x: "x", y: "y", stroke: "#0000ff", strokeWidth: 4}),
    Plot.rectY(eSet, {x1: d => d.c - E_HALF, x2: d => d.c + E_HALF, y: "p", fill: "#ff0000"}),
    Plot.rectY(eReset, {x1: d => d.c - E_HALF, x2: d => d.c + E_HALF, y: "p", fill: "#0000ff"})
  ]
});

// (f)
const fH = fHRSp.map((p, i) => ({x: fHRSr[i], y: p}));
const fL = fLRSp.map((p, i) => ({x: fLRSr[i], y: p}));
panel({
  left: 2140, top: 920, w: 1064, h: 900, m: [189, 63, 53, 175],
  x: {type: "log", domain: [1, 1e6]}, y: {domain: [-10, 110]},
  xt: fXt, xm: logMinors(1, 1e6), xf: pow10Label, yt: fYt, ym: fYm, yf: numLabel,
  xTitle: "Resistance(Ω)", xtdx: 0, xtdy: 114, yTitle: "Cumulative probability", ytdx: -131, ytdy: 0,
  marks: [
    Plot.line(fH, {x: "x", y: "y", stroke: "#bbbbbb", strokeWidth: 1}),
    Plot.dot(fH, {x: "x", y: "y", r: 8, fill: "url(#gGray)"}),
    Plot.line(fL, {x: "x", y: "y", stroke: "#ff6060", strokeWidth: 1}),
    Plot.dot(fL, {x: "x", y: "y", r: 8, fill: "url(#gRed)"})
  ]
});

// (g)
const gOff = rows(gT, gOFF), gOn = rows(gT, gON);
panel({
  left: 0, top: 1820, w: 1070, h: 911, m: [234, 65, 56, 179],
  x: {type: "log", domain: [1, 2e4]}, y: {type: "log", domain: [10, 1e6]},
  xt: gXt, xm: logMinors(1, 2e4), xf: pow10Label, yt: gYt, ym: logMinors(10, 1e6), yf: pow10Label,
  xTitle: "Time (s)", xtdx: -3, xtdy: 128, yTitle: "Resistance (Ω)", ytdx: -134, ytdy: 7,
  marks: [
    Plot.line(gOff, {x: "x", y: "y", stroke: "#222", strokeWidth: 2.5}),
    Plot.dot(gOff, {x: "x", y: "y", r: 7, fill: "#505050"}),
    Plot.line(gOn, {x: "x", y: "y", stroke: "#ff0000", strokeWidth: 2.5}),
    Plot.dot(gOn, {x: "x", y: "y", r: 7, fill: "#ff0000"})
  ]
});

// (h)
const hData = [].concat(rows(hHrsV, hHrsI), rows(hSetV, hSetI), rows(hRetV, hRetI));
function fitMarks(fits) {
  const out = [];
  fits.forEach(f => {
    out.push(Plot.line(rows(f.V, f.I), {x: "x", y: "y", stroke: f.color, strokeWidth: 4.5}));
    out.push(Plot.text([f], {x: "tV", y: "tI", text: "name", fill: f.color, textAnchor: "start", lineAnchor: "middle", fontSize: 42}));
  });
  return out;
}
panel({
  left: 1070, top: 1820, w: 1070, h: 911, m: [194, 67, 48, 166],
  x: {type: "log", domain: [0.05, 10]}, y: {type: "log", domain: [1e-7, 1]},
  xt: hiXt, xm: logMinors(0.05, 10), xf: numLabel, yt: hYt, ym: logMinors(1e-7, 1), yf: pow10Label,
  xTitle: "Voltage (-V)", xtdx: 0, xtdy: 112, yTitle: "Current (A)", ytdx: -152, ytdy: 10,
  marks: [
    Plot.line(hData, {x: "x", y: "y", stroke: "#ff8c1a", strokeWidth: 2.5}),
    Plot.dot(hData, {x: "x", y: "y", r: 9, fill: "#ff8c1a"}),
    ...fitMarks(hFits)
  ]
});

// (i)
const iData = [].concat(rows(iUpV, iUpI), rows(iHiV, iHiI), rows(iLoV, iLoI));
panel({
  left: 2140, top: 1820, w: 1064, h: 911, m: [180, 58, 44, 163],
  x: {type: "log", domain: [0.05, 10]}, y: {type: "log", domain: [6.2e-7, 1]},
  xt: hiXt, xm: logMinors(0.05, 10), xf: numLabel, yt: iYt, ym: logMinors(6.2e-7, 1), yf: pow10Label,
  xTitle: "Voltage (V)", xtdx: 0, xtdy: 112, yTitle: "Current (A)", ytdx: -158, ytdy: 4,
  marks: [
    Plot.line(iData, {x: "x", y: "y", stroke: "#ff8c1a", strokeWidth: 2.5}),
    Plot.dot(iData, {x: "x", y: "y", r: 9, fill: "#ff8c1a"}),
    ...fitMarks(iFits)
  ]
});

// ================= OVERLAY: panel letters & legends =================
const ov = d3.select(fig).append("svg")
  .attr("width", 3204).attr("height", 2731)
  .style("position", "absolute").style("left", "0px").style("top", "0px")
  .style("pointer-events", "none").style("font-family", FONT);

[["(a)",67,77],["(b)",1092,77],["(c)",2168,77],["(d)",67,998],["(e)",1090,998],["(f)",2166,1004],["(g)",67,1910],["(h)",1090,1907],["(i)",2166,1910]]
  .forEach(([t, x, y]) => ov.append("text").attr("x", x).attr("y", y).attr("text-anchor", "middle")
    .attr("dominant-baseline", "central").attr("font-size", 66).attr("fill", "#000").text(t));

function legendRow(o) {
  ov.append("line").attr("x1", o.x1).attr("x2", o.x2).attr("y1", o.y).attr("y2", o.y)
    .attr("stroke", o.line).attr("stroke-width", o.lw || 1.5);
  ov.append("circle").attr("cx", o.cx).attr("cy", o.y).attr("r", o.r).attr("fill", o.fill);
  ov.append("text").attr("x", o.tx).attr("y", o.y).attr("dominant-baseline", "central")
    .attr("font-size", o.size).attr("fill", "#000").text(o.label);
}
// (d) legend
legendRow({x1: 882, x2: 955, y: 992, cx: 919, r: 8, fill: "url(#gGray)", line: "#999", label: "HRS", tx: 965, size: 32});
legendRow({x1: 882, x2: 955, y: 1035, cx: 919, r: 6.5, fill: "url(#gRed)", line: "#ff8080", label: "LRS", tx: 965, size: 32});
ov.append("text").attr("x", 1031).attr("y", 1603).attr("text-anchor", "end").attr("dominant-baseline", "central")
  .attr("font-size", 32).text("Read @ 1V");
// (e) legend
[["#ff0000", 988, 43, "set", 1025, 1036], ["#0000ff", 1048, 47, "reset", 1085, 1097]].forEach(([col, y, hgt, sub, b1, b2]) => {
  ov.append("rect").attr("x", 1895).attr("y", y).attr("width", 92).attr("height", hgt).attr("fill", col);
  const t = ov.append("text").attr("x", 1989).attr("y", b1).attr("font-size", 40).text("V");
  t.append("tspan").attr("font-size", 29).attr("dy", b2 - b1).text(sub);
});
// (f) legend
legendRow({x1: 2329, x2: 2407, y: 1004, cx: 2369, r: 8, fill: "url(#gGray)", line: "#bbb", label: "HRS", tx: 2418, size: 33});
legendRow({x1: 2329, x2: 2407, y: 1048, cx: 2369, r: 8, fill: "url(#gRed)", line: "#ff6060", label: "LRS", tx: 2418, size: 33});
// (g) labels
legendRow({x1: 532, x2: 621, y: 2052, cx: 576, r: 7.5, fill: "#505050", line: "#000", lw: 2.5, label: "OFF state", tx: 624, size: 40});
legendRow({x1: 537, x2: 627, y: 2450, cx: 582, r: 7.5, fill: "#ff0000", line: "#ff0000", lw: 2.5, label: "ON state", tx: 629, size: 40});
</script>
</body>
</html>
